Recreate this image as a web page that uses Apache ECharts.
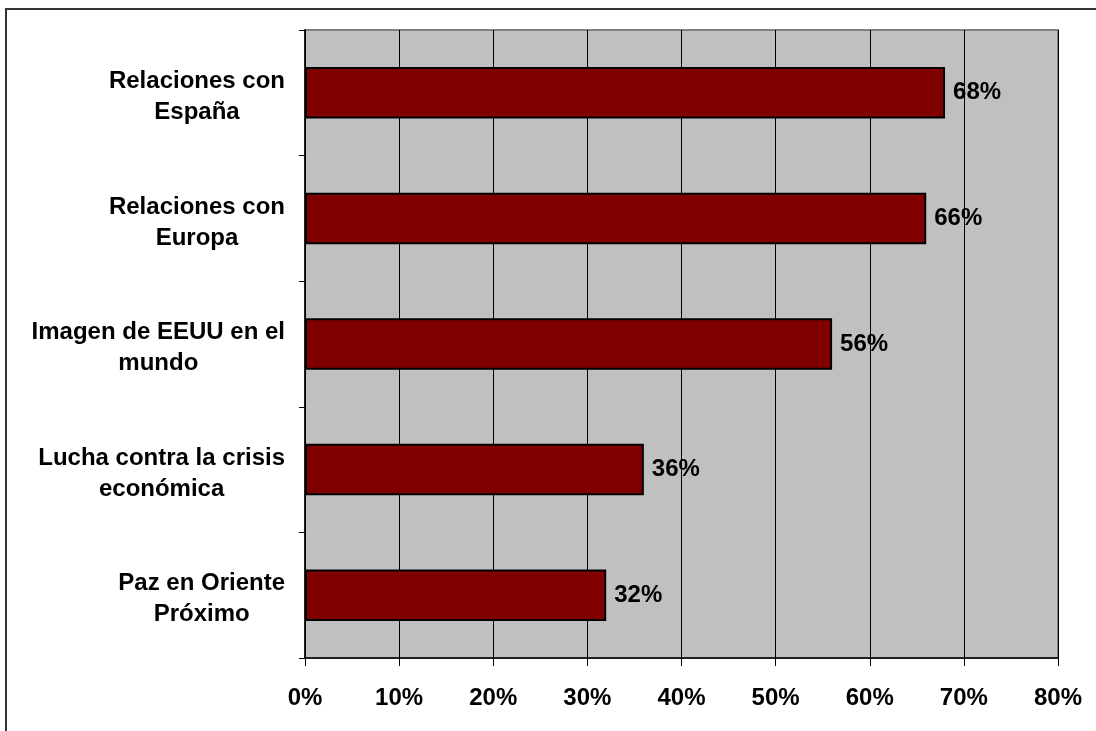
<!DOCTYPE html>
<html><head><meta charset="utf-8">
<script src="https://cdn.jsdelivr.net/npm/echarts@6/dist/echarts.min.js"></script>
<style>html,body{margin:0;padding:0;background:#fff;}#c{width:1096px;height:731px;}</style>
</head><body><div id="c"></div>
<script>
const categories = ["Relaciones con\nEspaña", "Relaciones con\nEuropa", "Imagen de EEUU en el\nmundo", "Lucha contra la crisis\neconómica", "Paz en Oriente\nPróximo"];
const values = [68, 66, 56, 36, 32];
const xTicks = [0, 10, 20, 30, 40, 50, 60, 70, 80];

const chart = echarts.init(document.getElementById('c'));
const font = 'Arial, "Liberation Sans", sans-serif';
chart.setOption({
  animation: false,
  graphic: [{
    type: 'rect', shape: {x: 6, y: 9, width: 1200, height: 800},
    style: {fill: 'none', stroke: '#333', lineWidth: 2}, silent: true, z: -10
  }],
  grid: {left: 305, top: 30, right: 38, bottom: 73, show: true, backgroundColor: '#c0c0c0', borderColor: '#808080', borderWidth: 2},
  xAxis: {
    type: 'value', min: xTicks[0], max: xTicks[xTicks.length - 1], interval: 10,
    axisLine: {show: true, lineStyle: {color: '#000', width: 1.5}},
    axisTick: {show: true, length: 8, lineStyle: {color: '#000'}},
    splitLine: {show: true, lineStyle: {color: '#000', width: 1}},
    axisLabel: {formatter: v => v + '%', fontFamily: font, fontWeight: 'bold', fontSize: 24, color: '#000', margin: 28}
  },
  yAxis: {
    type: 'category', data: categories, inverse: true,
    axisLine: {show: true, lineStyle: {color: '#000', width: 1.5}},
    axisTick: {show: true, length: 6, lineStyle: {color: '#000'}},
    axisLabel: {
      margin: 20, align: 'right', padding: [8, 0, 0, 0],
      formatter: v => v.split('\n').map(l => '{c|' + l + '}').join('\n'),
      rich: {c: {align: 'center', fontFamily: font, fontWeight: 'bold', fontSize: 24, color: '#000', lineHeight: 31}}
    }
  },
  series: [{
    type: 'bar', data: values, barWidth: '41%',
    itemStyle: {color: '#800000', borderColor: '#000', borderWidth: 2},
    label: {show: true, position: 'right', distance: 8, formatter: p => p.value + '%', fontFamily: font, fontWeight: 'bold', fontSize: 24, color: '#000'}
  }]
});
</script></body></html>
